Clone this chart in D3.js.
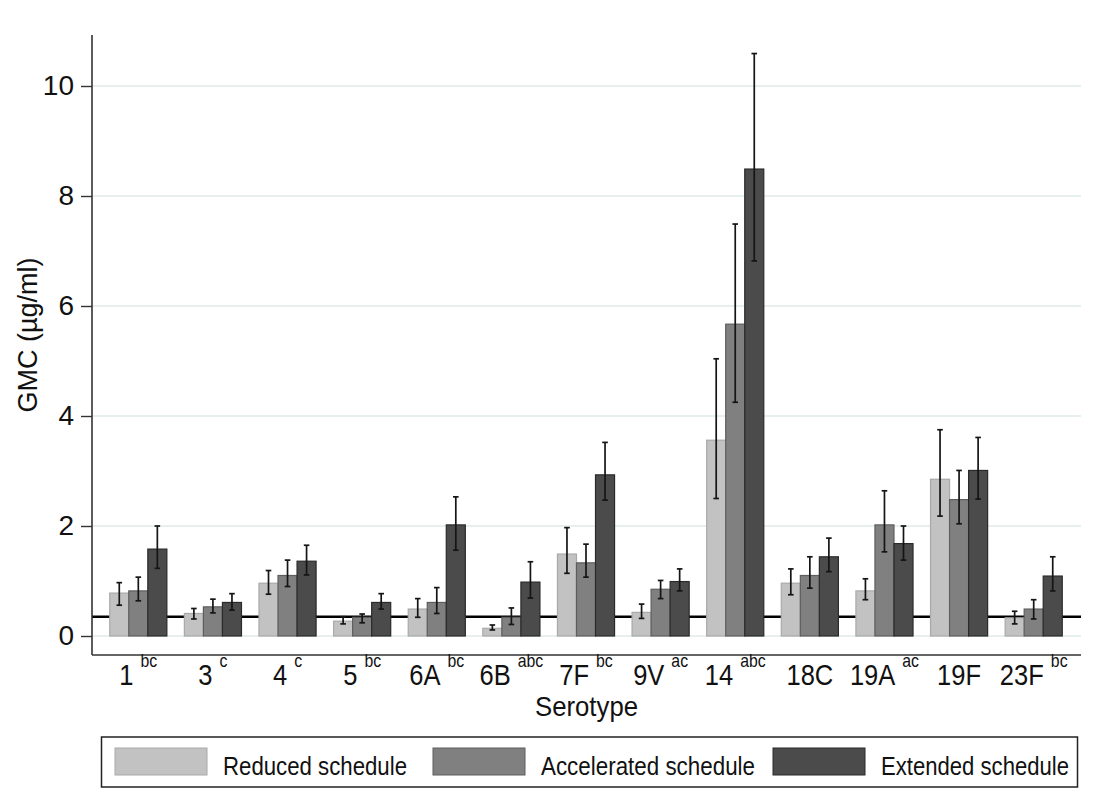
<!DOCTYPE html>
<html>
<head>
<meta charset="utf-8">
<script src="https://cdn.jsdelivr.net/npm/d3@7"></script>
<style>
  html, body { margin: 0; padding: 0; background: #fff; }
  svg text { font-family: "Liberation Sans", Arial, Helvetica, sans-serif; fill: #111; }
</style>
</head>
<body>
<svg id="chart" width="1101" height="792"></svg>
<script>
// Serotypes and significance superscripts
const serotypes = ["1", "3", "4", "5", "6A", "6B", "7F", "9V", "14", "18C", "19A", "19F", "23F"];
const significance = ["bc", "c", "c", "bc", "bc", "abc", "bc", "ac", "abc", "", "ac", "", "bc"];

// Geometric mean concentrations (µg/ml) with 95% CI bounds
const reduced     = [0.78, 0.41, 0.96, 0.27, 0.49, 0.14, 1.49, 0.43, 3.56, 0.96, 0.82, 2.85, 0.33];
const reducedLo   = [0.56, 0.31, 0.76, 0.22, 0.34, 0.11, 1.14, 0.32, 2.50, 0.75, 0.66, 2.18, 0.22];
const reducedHi   = [0.97, 0.50, 1.19, 0.35, 0.68, 0.20, 1.97, 0.58, 5.04, 1.22, 1.04, 3.75, 0.45];

const accelerated   = [0.82, 0.53, 1.10, 0.34, 0.61, 0.34, 1.33, 0.85, 5.67, 1.10, 2.02, 2.48, 0.49];
const acceleratedLo = [0.64, 0.42, 0.90, 0.24, 0.41, 0.21, 1.07, 0.68, 4.25, 0.87, 1.53, 2.04, 0.31];
const acceleratedHi = [1.07, 0.67, 1.38, 0.40, 0.88, 0.51, 1.67, 1.01, 7.49, 1.44, 2.64, 3.01, 0.66];

const extended   = [1.58, 0.61, 1.36, 0.61, 2.02, 0.98, 2.93, 0.99, 8.49, 1.44, 1.68, 3.01, 1.09];
const extendedLo = [1.23, 0.47, 1.11, 0.49, 1.56, 0.69, 2.47, 0.82, 6.82, 1.17, 1.38, 2.49, 0.82];
const extendedHi = [2.00, 0.77, 1.65, 0.77, 2.53, 1.35, 3.52, 1.22, 10.59, 1.78, 2.00, 3.61, 1.44];

const seriesNames = ["Reduced schedule", "Accelerated schedule", "Extended schedule"];
const yTicks = [0, 2, 4, 6, 8, 10];
const threshold = 0.35;

const series = [
  { name: seriesNames[0], values: reduced, lo: reducedLo, hi: reducedHi, fill: "#c2c2c2", stroke: "#a9a9a9" },
  { name: seriesNames[1], values: accelerated, lo: acceleratedLo, hi: acceleratedHi, fill: "#808080", stroke: "#5e5e5e" },
  { name: seriesNames[2], values: extended, lo: extendedLo, hi: extendedHi, fill: "#4b4b4b", stroke: "#2a2a2a" }
];

const svg = d3.select("#chart");

// Plot frame
const plotLeft = 92, plotRight = 1081, plotTop = 35, plotBottom = 655;

const x = d3.scaleBand().domain(serotypes).range([101, 1071]).padding(0);
const xInner = d3.scaleBand().domain(seriesNames).range([0, x.bandwidth()]).paddingInner(0).paddingOuter(0.46);
const y = d3.scaleLinear().domain([0, 10]).range([636, 86]);

// Horizontal gridlines
svg.append("g").selectAll("line").data(yTicks).join("line")
  .attr("x1", plotLeft).attr("x2", plotRight)
  .attr("y1", d => y(d)).attr("y2", d => y(d))
  .attr("stroke", "#dfeaea").attr("stroke-width", 1.6);

// Reference threshold line
svg.append("line")
  .attr("x1", plotLeft).attr("x2", plotRight)
  .attr("y1", y(threshold)).attr("y2", y(threshold))
  .attr("stroke", "#000").attr("stroke-width", 2.6);

// Bars
const groups = svg.append("g").selectAll("g").data(serotypes).join("g")
  .attr("transform", d => `translate(${x(d)},0)`);

series.forEach(s => {
  groups.append("rect")
    .attr("x", xInner(s.name))
    .attr("width", xInner.bandwidth())
    .attr("y", (d, i) => y(s.values[i]))
    .attr("height", (d, i) => y(0) - y(s.values[i]))
    .attr("fill", s.fill)
    .attr("stroke", s.stroke)
    .attr("stroke-width", 1.2);
});

// Confidence interval caps
const capHalf = 2.8;
series.forEach(s => {
  const cx = xInner(s.name) + xInner.bandwidth() / 2;
  const eb = groups.append("g").attr("stroke", "#151515").attr("stroke-width", 1.7).attr("fill", "none");
  eb.append("line")
    .attr("x1", cx).attr("x2", cx)
    .attr("y1", (d, i) => y(s.lo[i])).attr("y2", (d, i) => y(s.hi[i]));
  eb.append("line")
    .attr("x1", cx - capHalf).attr("x2", cx + capHalf)
    .attr("y1", (d, i) => y(s.hi[i])).attr("y2", (d, i) => y(s.hi[i]));
  eb.append("line")
    .attr("x1", cx - capHalf).attr("x2", cx + capHalf)
    .attr("y1", (d, i) => y(s.lo[i])).attr("y2", (d, i) => y(s.lo[i]));
});

// Y axis
const yAxis = d3.axisLeft(y).tickValues(yTicks).tickSize(11).tickPadding(7).tickFormat(d3.format("d"));
const yg = svg.append("g").attr("transform", `translate(${plotLeft},0)`).call(yAxis);
yg.select(".domain").remove();
yg.selectAll(".tick line").attr("stroke", "#333").attr("stroke-width", 1.4);
yg.selectAll(".tick text")
  .attr("font-size", 28)
  .attr("fill", "#111")
  .style("font-family", "'Liberation Sans', Arial, sans-serif");
svg.append("line").attr("x1", plotLeft).attr("x2", plotLeft).attr("y1", plotTop).attr("y2", plotBottom)
  .attr("stroke", "#333").attr("stroke-width", 1.6);

// X axis baseline
svg.append("line").attr("x1", plotLeft).attr("x2", plotRight).attr("y1", plotBottom).attr("y2", plotBottom)
  .attr("stroke", "#333").attr("stroke-width", 1.6);

// Category labels with superscripts (slightly condensed type)
const xl = svg.append("g").selectAll("text").data(serotypes).join("text")
  .attr("transform", d => `translate(${x(d) + x.bandwidth() / 2},685) scale(0.88,1)`)
  .attr("text-anchor", "middle")
  .attr("font-size", 29);
xl.append("tspan").text(d => d);
xl.append("tspan")
  .attr("font-size", 18)
  .attr("dx", (d, i) => significance[i] ? 8 : 0)
  .attr("dy", -18)
  .text((d, i) => significance[i]);

// Axis titles
svg.append("text")
  .attr("transform", `translate(${(plotLeft + plotRight) / 2},716) scale(0.92,1)`)
  .attr("text-anchor", "middle").attr("font-size", 28).text("Serotype");
svg.append("text")
  .attr("transform", "translate(37,335) rotate(-90)")
  .attr("text-anchor", "middle").attr("font-size", 27).text("GMC (µg/ml)");

// Legend
const legend = svg.append("g");
legend.append("rect").attr("x", 101.5).attr("y", 737).attr("width", 976).attr("height", 50)
  .attr("fill", "#fff").attr("stroke", "#222").attr("stroke-width", 1.5);
const legendX = [115, 433, 773];
const legendW = [184, 214, 188];
series.forEach((s, i) => {
  legend.append("rect").attr("x", legendX[i]).attr("y", 748).attr("width", 92).attr("height", 27)
    .attr("fill", s.fill).attr("stroke", s.stroke).attr("stroke-width", 1);
  legend.append("text").attr("x", legendX[i] + 108).attr("y", 775)
    .attr("font-size", 26)
    .attr("textLength", legendW[i]).attr("lengthAdjust", "spacingAndGlyphs")
    .text(s.name);
});
</script>
</body>
</html>
